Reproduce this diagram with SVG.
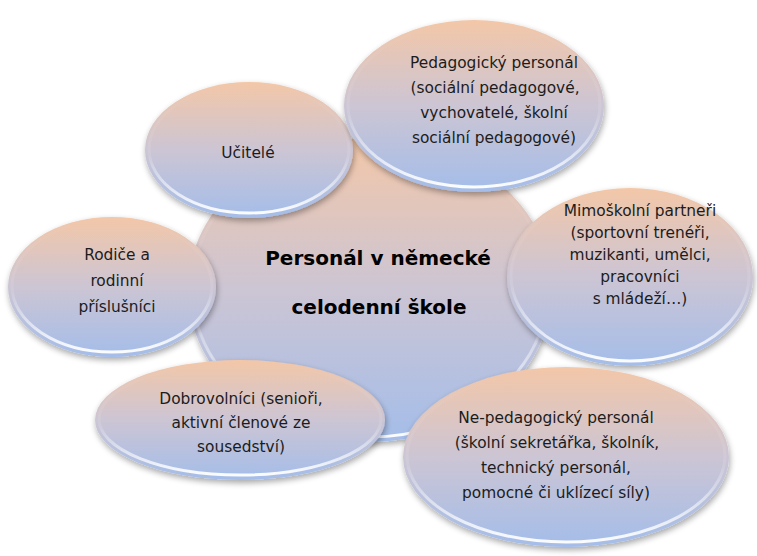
<svg xmlns="http://www.w3.org/2000/svg" width="757" height="556" viewBox="0 0 757 556">
<defs>
<linearGradient id="fill" x1="0" y1="0" x2="0" y2="1">
<stop offset="0" stop-color="#f3c7a8"/>
<stop offset="0.5" stop-color="#ccc5d4"/>
<stop offset="1" stop-color="#a4bde9"/>
</linearGradient>
<linearGradient id="rim" x1="0" y1="0" x2="0" y2="1">
<stop offset="0" stop-color="#ffffff" stop-opacity="0"/>
<stop offset="0.55" stop-color="#ffffff" stop-opacity="0.1"/>
<stop offset="1" stop-color="#ffffff" stop-opacity="0.95"/>
</linearGradient>
<filter id="sh" x="-10%" y="-10%" width="120%" height="125%">
<feGaussianBlur in="SourceAlpha" stdDeviation="3"/>
<feOffset dx="1" dy="3" result="b"/>
<feComponentTransfer in="b" result="s"><feFuncA type="linear" slope="0.35"/></feComponentTransfer>
<feMerge><feMergeNode in="s"/><feMergeNode in="SourceGraphic"/></feMerge>
</filter>
</defs>
<style>
.e{fill:url(#fill);filter:url(#sh);}
.r{fill:none;stroke:url(#rim);stroke-width:3;}
text{font-family:"DejaVu Sans","Liberation Sans",sans-serif;font-size:15.4px;fill:#1c1c1c;text-anchor:middle;}
.c{font-size:20px;font-weight:bold;fill:#000;}
</style>
<rect width="757" height="556" fill="#ffffff"/>
<g id="connectors"></g>
<g id="center">
<ellipse class="e" cx="370" cy="290" rx="182" ry="152"/>
<ellipse class="r" cx="370" cy="289" rx="178" ry="148"/>
<text class="c" x="378" y="265">Personál v německé</text>
<text class="c" x="379" y="314">celodenní škole</text>
</g>
<g id="ucitele">
<ellipse class="e" cx="249" cy="150" rx="104" ry="68"/>
<ellipse class="r" cx="249" cy="149" rx="100" ry="64"/>
<text x="248" y="158">Učitelé</text>
</g>
<g id="pedagogicky">
<ellipse class="e" cx="474" cy="106" rx="130" ry="86"/>
<ellipse class="r" cx="474" cy="105" rx="126" ry="82"/>
<text x="494" y="68">Pedagogický personál</text>
<text x="495" y="93">(sociální pedagogové,</text>
<text x="494" y="118">vychovatelé, školní</text>
<text x="494" y="143">sociální pedagogové)</text>
</g>
<g id="mimoskolni">
<ellipse class="e" cx="630" cy="277" rx="123" ry="89"/>
<ellipse class="r" cx="630" cy="276" rx="119" ry="85"/>
<text x="640" y="216">Mimoškolní partneři</text>
<text x="640" y="238">(sportovní trenéři,</text>
<text x="640" y="260">muzikanti, umělci,</text>
<text x="640" y="282">pracovníci</text>
<text x="640" y="304">s mládeží…)</text>
</g>
<g id="rodice">
<ellipse class="e" cx="112" cy="287" rx="104" ry="70"/>
<ellipse class="r" cx="112" cy="286" rx="100" ry="66"/>
<text x="117" y="260">Rodiče a</text>
<text x="117" y="286">rodinní</text>
<text x="117" y="312">příslušníci</text>
</g>
<g id="dobrovolnici">
<ellipse class="e" cx="240" cy="420" rx="145" ry="60"/>
<ellipse class="r" cx="240" cy="419" rx="141" ry="56"/>
<text x="241" y="404">Dobrovolníci (senioři,</text>
<text x="241" y="428">aktivní členové ze</text>
<text x="241" y="452">sousedství)</text>
</g>
<g id="nepedagogicky">
<ellipse class="e" cx="566" cy="457" rx="163" ry="90"/>
<ellipse class="r" cx="566" cy="456" rx="159" ry="86"/>
<text x="556" y="423">Ne-pedagogický personál</text>
<text x="557" y="448">(školní sekretářka, školník,</text>
<text x="556" y="473">technický personál,</text>
<text x="556" y="498">pomocné či uklízecí síly)</text>
</g>
</svg>
